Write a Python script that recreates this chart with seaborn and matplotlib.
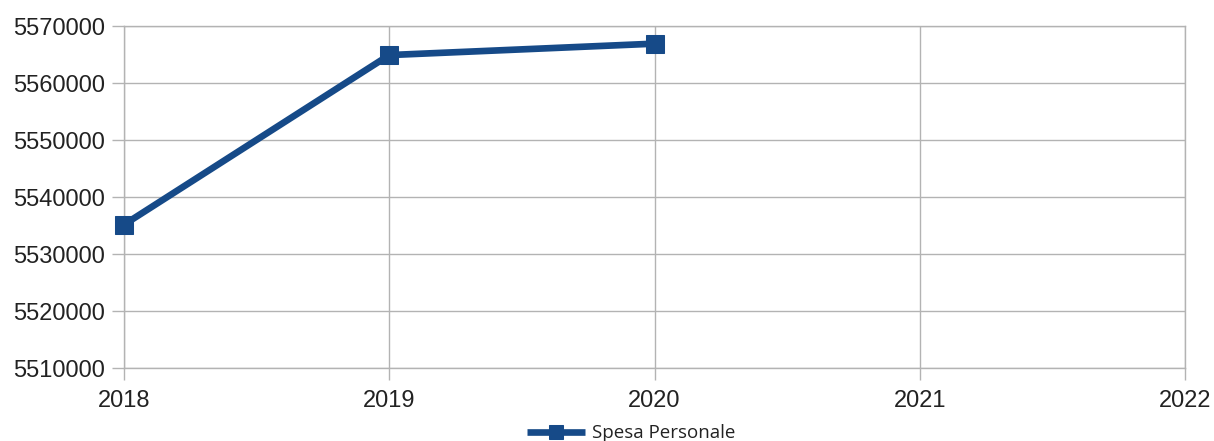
import matplotlib
matplotlib.use('Agg')
import matplotlib.pyplot as plt
import seaborn as sns
import pandas as pd

# data
years = [2018, 2019, 2020]
spesa = [5535150, 5564900, 5566900]
x_ticks = [2018, 2019, 2020, 2021, 2022]
y_ticks = [5510000, 5520000, 5530000, 5540000, 5550000, 5560000, 5570000]

df = pd.DataFrame({'Anno': years, 'Spesa Personale': spesa})

sns.set_style('white')
plt.rcParams['font.family'] = ['Liberation Sans', 'DejaVu Sans']
plt.rcParams['xtick.bottom'] = True
plt.rcParams['ytick.left'] = True

fig = plt.figure(figsize=(12.14, 4.41), dpi=100)
ax = fig.add_axes([124 / 1214, 1 - 368 / 441, (1185 - 124) / 1214, (368 - 26) / 441])

color = '#164a88'
sns.lineplot(data=df, x='Anno', y='Spesa Personale', ax=ax, color=color,
             linewidth=4.8, marker='s', markersize=13, markeredgecolor=color,
             label='Spesa Personale', clip_on=False, zorder=5,
             solid_capstyle='butt')

ax.set_xlim(2018, 2022)
ax.set_ylim(5510000, 5570000)
ax.set_xticks(x_ticks)
ax.set_yticks(y_ticks)
ax.set_xticklabels([str(v) for v in x_ticks])
ax.set_yticklabels([str(v) for v in y_ticks])
ax.set_xlabel('')
ax.set_ylabel('')
ax.grid(True, color='#b3b3b3', linewidth=1)
ax.set_axisbelow(True)
for s in ax.spines.values():
    s.set_color('#b3b3b3')
    s.set_linewidth(1)
ax.tick_params(axis='both', which='major', length=8.5, color='#b3b3b3', width=1,
               labelsize=17, labelcolor='#222222', direction='out')
ax.tick_params(axis='x', pad=7)
ax.tick_params(axis='y', pad=5)

leg = ax.legend(loc='upper center', bbox_to_anchor=(0.478, -0.165), frameon=False,
                prop={'family': 'Open Sans', 'size': 13.5}, handlelength=3.1,
                handletextpad=0.4, borderaxespad=0, borderpad=0, markerscale=0.75)
for t in leg.get_texts():
    t.set_color('#222222')

fig.savefig('out.png', dpi=100)
